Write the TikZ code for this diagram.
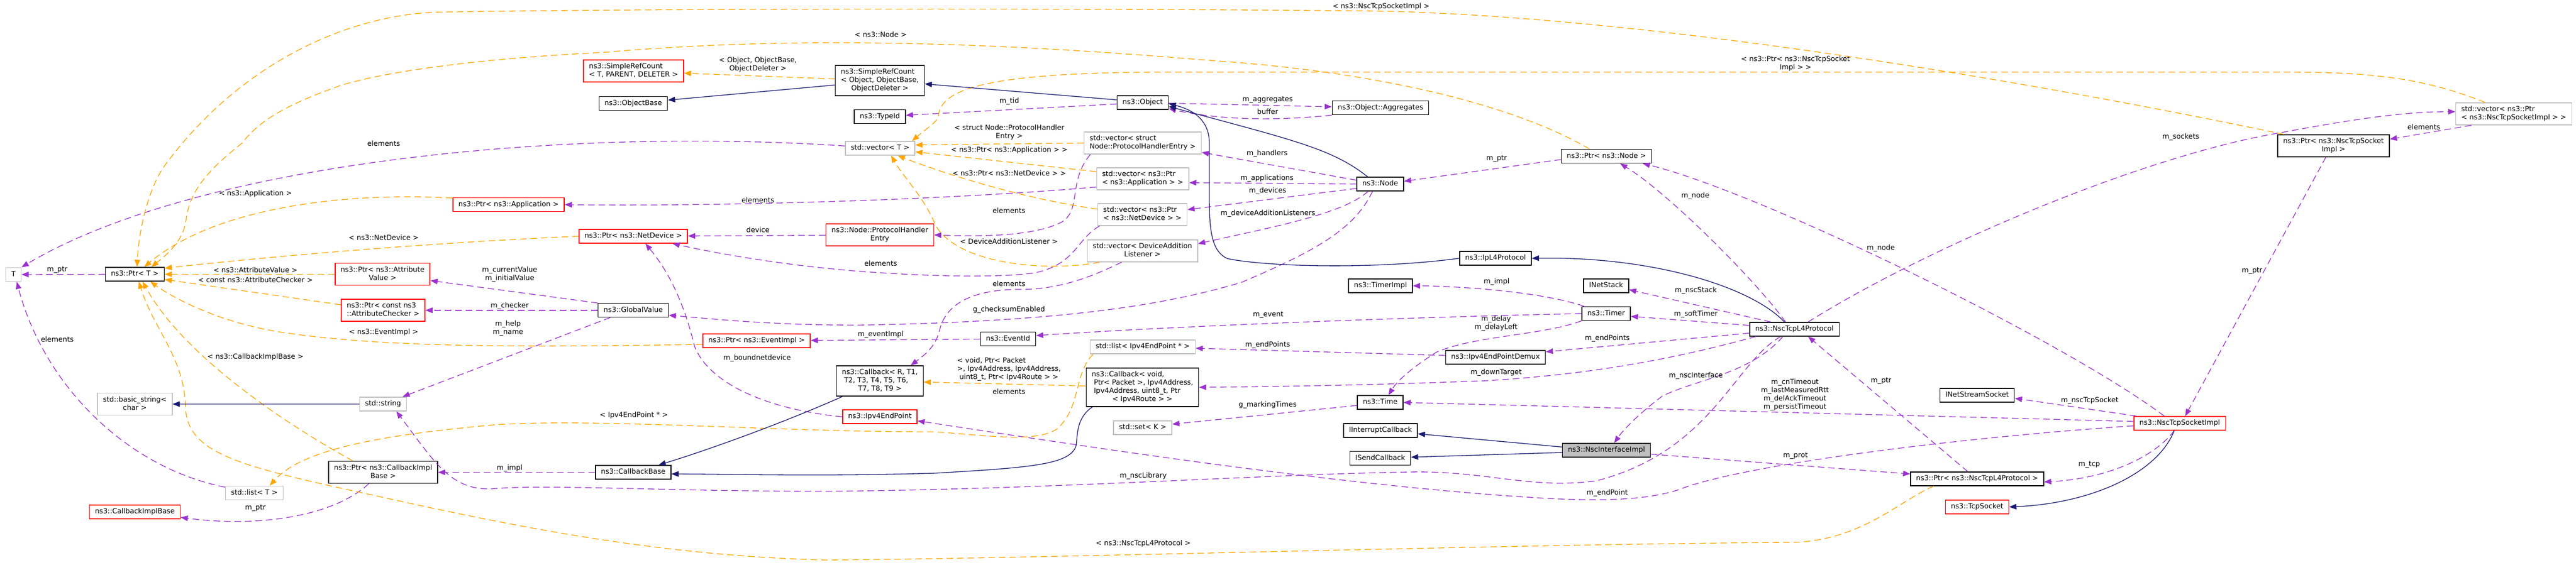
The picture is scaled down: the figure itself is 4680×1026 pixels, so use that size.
\documentclass[tikz,border=0pt]{standalone}
\usepackage{fontspec}
\setmainfont{DejaVu Sans}
\usetikzlibrary{arrows.meta}
\definecolor{usecol}{HTML}{9A32CD}
\definecolor{tmplcol}{HTML}{FFA500}
\definecolor{inhcol}{HTML}{191970}
\definecolor{extcol}{HTML}{BFBFBF}
\newcommand{\ctext}[1]{\begin{tabular}{@{}c@{}}#1\end{tabular}}
\newcommand{\ltext}[2]{\begin{tabular}{@{}l@{}}#1\\\multicolumn{1}{@{}c@{}}{#2}\end{tabular}}

\begin{document}
\begin{tikzpicture}[x=1pt, y=-1pt, font=\fontsize{12.8}{15}\selectfont,                  % pixel grid
        clsbox/.style = {rectangle, inner xsep=10pt, inner ysep=5pt, line width=1.5pt, fill=white},
        docbox/.style = {clsbox, draw=black},                                                % documented classes
        extbox/.style = {clsbox, draw=extcol},                                               % undocumented classes
        trunbox/.style = {clsbox, draw=red},                                                 % truncated graphs
        selbox/.style = {clsbox, draw=black, fill=extcol},                                   % the class itself
        elabel/.style = {inner sep=0pt, align=center},
        link/.style = {line width=1.3pt, -{Triangle[length=13pt,width=10pt]}},
        usage/.style = {link, draw=usecol, dash pattern=on 12pt off 7pt},
        tinst/.style = {link, draw=tmplcol, dash pattern=on 12pt off 7pt},
        inherit/.style = {link, draw=inhcol}]
    \useasboundingbox (0,0) rectangle (4680,1026);

    \node[extbox] (tT) at (24.5,499) {\ctext{T}};
    \node[docbox] (ptrT) at (245,498.5) {\ctext{ns3::Ptr< T >}};
    \node[trunbox] (ptrAttrVal) at (695,498.5) {\ltext{ns3::Ptr< ns3::Attribute}{Value >}};
    \node[trunbox] (ptrAttrChk) at (696,564) {\ltext{ns3::Ptr< const ns3}{::AttributeChecker >}};
    \node[extbox] (basicStr) at (245,734.5) {\ltext{std::basic\_string<}{char >}};
    \node[extbox] (stdStr) at (696,734.5) {\ctext{std::string}};
    \node[docbox] (ptrCbImpl) at (696,858.5) {\ltext{ns3::Ptr< ns3::CallbackImpl}{Base >}};
    \node[extbox] (listT) at (462,896) {\ctext{std::list< T >}};
    \node[trunbox] (cbImplBase) at (245,930.5) {\ctext{ns3::CallbackImplBase}};
    \node[trunbox] (srcT) at (1151,129) {\ltext{ns3::SimpleRefCount}{< T, PARENT, DELETER >}};
    \node[docbox] (srcObj) at (1598.5,146.5) {\ltext{ns3::SimpleRefCount\\< Object, ObjectBase,}{ObjectDeleter >}};
    \node[docbox] (objBase) at (1150.5,188) {\ctext{ns3::ObjectBase}};
    \node[docbox] (typeId) at (1598.5,212) {\ctext{ns3::TypeId}};
    \node[extbox] (vecT) at (1599,269.5) {\ctext{std::vector< T >}};
    \node[trunbox] (ptrApp) at (924,372) {\ctext{ns3::Ptr< ns3::Application >}};
    \node[trunbox] (ptrDev) at (1150.6,429.5) {\ctext{ns3::Ptr< ns3::NetDevice >}};
    \node[trunbox] (phEntry) at (1598.5,427) {\ltext{ns3::Node::ProtocolHandler}{Entry}};
    \node[docbox] (globalVal) at (1150.5,564) {\ctext{ns3::GlobalValue}};
    \node[trunbox] (ptrEvImpl) at (1374.5,619.5) {\ctext{ns3::Ptr< ns3::EventImpl >}};
    \node[docbox] (cbTmpl) at (1598.5,692.5) {\ltext{ns3::Callback< R, T1,\\\hspace{4pt}T2, T3, T4, T5, T6,}{T7, T8, T9 >}};
    \node[trunbox] (endPoint) at (1598.5,757.5) {\ctext{ns3::Ipv4EndPoint}};
    \node[docbox] (cbBase) at (1150.5,858.5) {\ctext{ns3::CallbackBase}};
    \node[docbox] (obj) at (2076,186.5) {\ctext{ns3::Object}};
    \node[extbox] (vecPhe) at (2076,260) {\ltext{std::vector< struct}{Node::ProtocolHandlerEntry >}};
    \node[extbox] (vecApp) at (2076,325) {\ltext{std::vector< ns3::Ptr}{< ns3::Application > >}};
    \node[extbox] (vecDev) at (2075.5,390) {\ltext{std::vector< ns3::Ptr}{< ns3::NetDevice > >}};
    \node[extbox] (vecDal) at (2075.5,456) {\ltext{std::vector< DeviceAddition}{Listener >}};
    \node[docbox] (eventId) at (1831.5,616) {\ctext{ns3::EventId}};
    \node[extbox] (listEp) at (2076,630.5) {\ctext{std::list< Ipv4EndPoint * >}};
    \node[docbox] (cbVoid) at (2075.5,704) {\ltext{ns3::Callback< void,\\\hspace{4pt}Ptr< Packet >, Ipv4Address,\\\hspace{4pt}Ipv4Address, uint8\_t, Ptr}{< Ipv4Route > >}};
    \node[extbox] (setK) at (2076,777.5) {\ctext{std::set< K >}};
    \node[docbox] (aggr) at (2508,196) {\ctext{ns3::Object::Aggregates}};
    \node[docbox] (nodeCls) at (2507.5,334.5) {\ctext{ns3::Node}};
    \node[docbox] (ptrNode) at (2918.5,284) {\ctext{ns3::Ptr< ns3::Node >}};
    \node[docbox] (ipL4) at (2717,469.5) {\ctext{ns3::IpL4Protocol}};
    \node[docbox] (timerImpl) at (2508,519.5) {\ctext{ns3::TimerImpl}};
    \node[docbox] (netStack) at (2918,519.5) {\ctext{INetStack}};
    \node[docbox] (timer) at (2918,570) {\ctext{ns3::Timer}};
    \node[docbox] (epDemux) at (2717,649.5) {\ctext{ns3::Ipv4EndPointDemux}};
    \node[docbox] (time) at (2507.5,731.5) {\ctext{ns3::Time}};
    \node[docbox] (intrCb) at (2508,782.5) {\ctext{IInterruptCallback}};
    \node[docbox] (sendCb) at (2507.5,833) {\ctext{ISendCallback}};
    \node[selbox] (nscIface) at (2918.6,818.5) {\ctext{ns3::NscInterfaceImpl}};
    \node[docbox] (nscL4) at (3260,598.5) {\ctext{ns3::NscTcpL4Protocol}};
    \node[docbox] (streamSock) at (3592,718.5) {\ctext{INetStreamSocket}};
    \node[docbox] (ptrNscL4) at (3592,870.5) {\ctext{ns3::Ptr< ns3::NscTcpL4Protocol >}};
    \node[trunbox] (tcpSock) at (3592,921.5) {\ctext{ns3::TcpSocket}};
    \node[trunbox] (sockImpl) at (3960,769.5) {\ctext{ns3::NscTcpSocketImpl}};
    \node[docbox] (ptrSockImpl) at (4239.5,265) {\ltext{ns3::Ptr< ns3::NscTcpSocket}{Impl >}};
    \node[extbox] (vecSock) at (4567,207) {\ltext{std::vector< ns3::Ptr}{< ns3::NscTcpSocketImpl > >}};

    %edge:usage
    \draw[usage] (ptrT) -- (tT);
    \draw[usage] (vecT) .. controls (1000,230) and (350,300) .. (tT.north east);
    \draw[usage] (listT) .. controls (230,850) and (80,700) .. ([xshift=6pt]tT.south);
    \draw[usage] ([yshift=-15pt]vecApp.west) .. controls (1700,365) and (1300,375) .. (ptrApp.east);
    \draw[usage] (phEntry) -- (ptrDev);
    \draw[usage] ([xshift=4pt]vecDev.south west) .. controls (1955,435) and (1955,480) .. (1880,496) .. controls (1800,507) and (1650,500) .. (1560,493) .. controls (1420,482) and (1300,460) .. ([xshift=-28pt]ptrDev.south east);
    \draw[usage] (endPoint.west) .. controls (1400,745) and (1290,700) .. (1262,630) .. controls (1245,560) and (1220,500) .. ([xshift=22pt]ptrDev.south);
    \draw[usage] ([xshift=12pt]vecPhe.south west) .. controls (1940,330) and (1965,380) .. (1930,403) .. controls (1880,430) and (1780,430) .. (phEntry.east);
    \draw[usage] (obj) -- (typeId);
    \draw[usage] (obj) -- (aggr);
    \draw[usage] (aggr.south west) .. controls (2300,222) and (2200,215) .. ([yshift=-11pt]obj.east);
    \draw[usage] ([yshift=7pt]nodeCls.west) -- ([yshift=-17pt]vecPhe.east);
    \draw[usage] (nodeCls.west) -- ([yshift=-7pt]vecApp.east);
    \draw[usage] ([yshift=-8pt]nodeCls.west) -- ([yshift=9pt]vecDev.east);
    \draw[usage] ([xshift=-22pt]nodeCls.south) .. controls (2440,390) and (2300,415) .. ([yshift=13pt]vecDal.east);
    \draw[usage] ([xshift=-14pt]nodeCls.south) .. controls (2460,420) and (2380,460) .. (2256,513) .. controls (2100,560) and (1900,585) .. (1560,591) .. controls (1400,591) and (1300,580) .. ([yshift=-9pt]globalVal.east);
    \draw[usage] ([xshift=-42pt]globalVal.south) -- ([xshift=-8pt]stdStr.north east);
    \draw[usage] (globalVal.north west) -- ([yshift=-11.5pt]ptrAttrVal.east);
    \draw[usage] (globalVal) -- (ptrAttrChk);
    \draw[usage] (eventId) -- (ptrEvImpl);
    \draw[usage] (cbBase) -- (ptrCbImpl);
    \draw[usage] ([xshift=-26pt]ptrCbImpl.south) .. controls (610,935) and (480,960) .. ([yshift=-10pt]cbImplBase.east);
    \draw[usage] ([xshift=-38pt]vecDal.south) .. controls (1990,500) and (1930,525) .. (1860,526) .. controls (1780,525) and (1720,545) .. (1707,600) .. controls (1700,630) and (1680,645) .. ([xshift=56pt]cbTmpl.north);
    \draw[usage] ([xshift=-40pt]timer.north) .. controls (2800,530) and (2650,520) .. (timerImpl.east);
    \draw[usage] ([xshift=-43pt]nscL4.north) -- ([yshift=-7pt]netStack.east);
    \draw[usage] ([yshift=7pt]nscL4.west) -- ([yshift=-5pt]timer.east);
    \draw[usage] (timer.west) .. controls (2500,578) and (2100,595) .. ([yshift=6pt]eventId.east);
    \draw[usage] (timer.south west) .. controls (2800,610) and (2680,610) .. (2610,640) .. controls (2570,665) and (2540,690) .. ([xshift=15pt]time.north);
    \draw[usage] ([yshift=-7pt]nscL4.west) -- ([yshift=10pt]epDemux.east);
    \draw[usage] ([yshift=3.5pt]epDemux.west) -- ([yshift=-2.5pt]listEp.east);
    \draw[usage] ([xshift=-70pt]nscL4.south) .. controls (3050,650) and (2900,680) .. (2700,692) .. controls (2500,700) and (2300,703) .. (cbVoid.east);
    \draw[usage] ([xshift=-21pt]nscL4.south) .. controls (3180,680) and (3080,690) .. (3020,720) .. controls (2980,750) and (2950,780) .. ([xshift=14pt]nscIface.north);
    \draw[usage] ([yshift=3.5pt]sockImpl.west) -- (time.east);
    \draw[usage] ([xshift=5pt]sockImpl.north west) -- ([yshift=-5.5pt]streamSock.east);
    \draw[usage] ([yshift=-7pt]nscIface.east) -- ([yshift=9pt]ptrNscL4.west);
    \draw[usage] ([xshift=-10pt]sockImpl.south) .. controls (3915,830) and (3830,870) .. ([yshift=-5.5pt]ptrNscL4.east);
    \draw[usage] ([xshift=-17pt]ptrNscL4.north) -- ([xshift=25pt]nscL4.south);
    \draw[usage] ([xshift=-16pt]nscL4.north) .. controls (3190,510) and (3030,350) .. ([xshift=25pt]ptrNode.south);
    \draw[usage] ([xshift=-28pt]sockImpl.north) .. controls (3750,620) and (3200,350) .. ([xshift=66pt]ptrNode.south);
    \draw[usage] ([xshift=25pt]nscL4.north) .. controls (3500,450) and (3900,280) .. (4150,240) .. controls (4300,212) and (4380,203) .. ([yshift=4pt]vecSock.west);
    \draw[usage] ([xshift=-77pt]vecSock.south) -- ([yshift=12pt]ptrSockImpl.east);
    \draw[usage] ([xshift=-14pt]ptrSockImpl.south) -- ([xshift=10pt]sockImpl.north);
    \draw[usage] ([yshift=-5.5pt]time.west) -- ([yshift=6.5pt]setK.east);
    \draw[usage] ([yshift=-4.5pt]sockImpl.west) .. controls (3500,800) and (3150,850) .. (3050,890) .. controls (2990,910) and (2900,912) .. (2780,904) .. controls (2400,880) and (1900,800) .. ([yshift=-7.5pt]endPoint.east);
    \draw[usage] ([xshift=-25pt]nscL4.south) .. controls (3150,660) and (3110,820) .. (2900,874) .. controls (2780,890) and (2700,855) .. (2560,858) .. controls (2300,862) and (1900,890) .. (1500,893) .. controls (1200,893) and (1000,880) .. (900,888) .. controls (820,895) and (790,840) .. ([xshift=24pt]stdStr.south);
    \draw[usage] ([yshift=-6pt]ptrNode.west) -- ([yshift=5pt]nodeCls.east);

    %edge:template
    \draw[tinst] (ptrAttrVal) -- (ptrT);
    \draw[tinst] ([yshift=10pt]ptrAttrChk.west) -- ([yshift=-9.5pt]ptrT.east);
    \draw[tinst] ([yshift=-6.5pt]ptrEvImpl.west) .. controls (1000,630) and (700,635) .. (500,602) .. controls (400,585) and (320,545) .. ([xshift=28pt]ptrT.south);
    \draw[tinst] ([xshift=-55pt]ptrCbImpl.north) .. controls (500,760) and (330,640) .. ([xshift=14pt]ptrT.south);
    \draw[tinst] ([xshift=-79pt]ptrNscL4.south) .. controls (3450,910) and (3380,985) .. (3250,986) .. controls (2800,988) and (1900,1015) .. (1500,1018) .. controls (1200,1010) and (950,960) .. (700,905) .. controls (450,850) and (340,830) .. (337,740) .. controls (335,650) and (280,600) .. ([xshift=7pt]ptrT.south);
    \draw[tinst] ([yshift=12pt]ptrApp.west) .. controls (650,350) and (400,370) .. ([xshift=17pt]ptrT.north);
    \draw[tinst] (ptrDev.west) .. controls (800,440) and (500,465) .. ([yshift=11pt]ptrT.east);
    \draw[tinst] ([xshift=-31pt]ptrNode.north) .. controls (2750,190) and (2500,130) .. (2200,110) .. controls (1900,85) and (1500,60) .. (1100,95) .. controls (900,105) and (720,125) .. (620,155) .. controls (520,190) and (470,220) .. (440,260) .. controls (390,300) and (345,340) .. (338,400) .. controls (333,440) and (300,465) .. ([xshift=30pt]ptrT.north);
    \draw[tinst] ([xshift=-90pt]ptrSockImpl.north) .. controls (3700,150) and (3000,30) .. (2500,20) .. controls (2000,15) and (1200,15) .. (800,22) .. controls (640,25) and (440,110) .. (300,300) .. controls (270,340) and (252,420) .. ([xshift=4pt]ptrT.north);
    \draw[tinst] ([xshift=-52pt]vecSock.north) .. controls (4400,140) and (4300,131) .. (4150,131) -- (2100,131) .. controls (1800,133) and (1710,160) .. (1705,210) .. controls (1703,222) and (1685,232) .. ([xshift=-6pt]vecT.north east);
    \draw[tinst] (vecPhe.west) -- ([yshift=6pt]vecT.east);
    \draw[tinst] ([yshift=13pt]vecApp.west) -- ([yshift=-6.5pt]vecT.east);
    \draw[tinst] ([yshift=10pt]vecDev.west) .. controls (1850,360) and (1700,310) .. ([xshift=32pt]vecT.south);
    \draw[tinst] ([xshift=-78pt]vecDal.south) .. controls (1900,495) and (1740,480) .. (1700,410) .. controls (1680,360) and (1640,320) .. ([xshift=20pt]vecT.south);
    \draw[tinst] ([yshift=3pt]srcObj.west) -- ([yshift=-4pt]srcT.east);
    \draw[tinst] (cbVoid) -- (cbTmpl);
    \draw[tinst] ([xshift=-90pt]listEp.south) .. controls (1950,680) and (1965,740) .. (1920,780) .. controls (1880,805) and (1800,792) .. (1700,785) .. controls (1400,785) and (1100,760) .. (900,772) .. controls (700,790) and (550,815) .. ([xshift=28pt]listT.north);

    %edge:inheritance
    \draw[inherit] ([yshift=-8pt]srcObj.west) -- ([yshift=6pt]objBase.east);
    \draw[inherit] ([yshift=5pt]obj.west) -- ([yshift=-6pt]srcObj.east);
    \draw[inherit] ([xshift=-23pt]nodeCls.north) .. controls (2420,270) and (2350,255) .. ([yshift=-7pt]obj.east);
    \draw[inherit] (ipL4.west) .. controls (2500,490) and (2300,485) .. (2230,470) .. controls (2195,455) and (2197,400) .. (2197,330) -- (2197,260) .. controls (2197,220) and (2170,200) .. ([yshift=-2pt]obj.east);
    \draw[inherit] ([xshift=-18pt]nscL4.north) .. controls (3180,520) and (3000,466) .. (ipL4.east);
    \draw[inherit] ([yshift=6pt]nscIface.west) -- ([yshift=-6pt]intrCb.east);
    \draw[inherit] ([yshift=-4pt]nscIface.west) -- ([yshift=2pt]sendCb.east);
    \draw[inherit] (stdStr) -- (basicStr);
    \draw[inherit] ([xshift=-10pt]sockImpl.south) .. controls (3920,860) and (3800,915) .. (tcpSock.east);
    \draw[inherit] ([xshift=-68pt]cbTmpl.south) .. controls (1420,770) and (1280,820) .. ([xshift=46pt]cbBase.north);
    \draw[inherit] ([xshift=-91pt]cbVoid.south) .. controls (1955,760) and (1958,790) .. (1955,810) .. controls (1945,845) and (1870,850) .. (1700,860) .. controls (1500,866) and (1350,862) .. ([yshift=-3pt]cbBase.east);

    %labels
    \node[elabel] (lab1) at (104,491) {m\_ptr};
    \node[elabel] (lab2) at (697,261) {elements};
    \node[elabel] (lab3) at (464,352) {< ns3::Application >};
    \node[elabel] (lab4) at (697,432) {< ns3::NetDevice >};
    \node[elabel] (lab5) at (464,491) {< ns3::AttributeValue >};
    \node[elabel] (lab6) at (464,509) {< const ns3::AttributeChecker >};
    \node[elabel] (lab7) at (697,604) {< ns3::EventImpl >};
    \node[elabel] (lab8) at (104,617) {elements};
    \node[elabel] (lab9) at (464,649) {< ns3::CallbackImplBase >};
    \node[elabel] (lab10) at (464,924) {m\_ptr};
    \node[elabel] (lab11) at (1377,117.5) {< Object, ObjectBase,\\ObjectDeleter >};
    \node[elabel] (lab12) at (1377,364) {elements};
    \node[elabel] (lab13) at (1377,418) {device};
    \node[elabel] (lab14) at (926,499) {m\_currentValue\\m\_initialValue};
    \node[elabel] (lab15) at (926,556) {m\_checker};
    \node[elabel] (lab16) at (923,597) {m\_help\\m\_name};
    \node[elabel] (lab17) at (1375.5,651) {m\_boundnetdevice};
    \node[elabel] (lab18) at (1151.6,755) {< Ipv4EndPoint * >};
    \node[elabel] (lab19) at (926,851) {m\_impl};
    \node[elabel] (lab20) at (1600,63) {< ns3::Node >};
    \node[elabel] (lab21) at (1833.6,184) {m\_tid};
    \node[elabel] (lab22) at (1833.6,241) {\ltext{< struct Node::ProtocolHandler}{Entry >}};
    \node[elabel] (lab23) at (1833.6,273) {< ns3::Ptr< ns3::Application > >};
    \node[elabel] (lab24) at (1833.6,315) {< ns3::Ptr< ns3::NetDevice > >};
    \node[elabel] (lab25) at (1833,383) {elements};
    \node[elabel] (lab26) at (1833,439) {< DeviceAdditionListener >};
    \node[elabel] (lab27) at (1600,479) {elements};
    \node[elabel] (lab28) at (2303,182) {m\_aggregates};
    \node[elabel] (lab29) at (2303,203) {buffer};
    \node[elabel] (lab30) at (2302,279) {m\_handlers};
    \node[elabel] (lab31) at (2302,324) {m\_applications};
    \node[elabel] (lab32) at (2303,347) {m\_devices};
    \node[elabel] (lab33) at (2303.5,388) {m\_deviceAdditionListeners};
    \node[elabel] (lab34) at (1833,516) {elements};
    \node[elabel] (lab35) at (1833,563) {g\_checksumEnabled};
    \node[elabel] (lab36) at (1600,608) {m\_eventImpl};
    \node[elabel] (lab37) at (2304,573) {m\_event};
    \node[elabel] (lab38) at (2303,627) {m\_endPoints};
    \node[elabel] (lab39) at (1833,671) {\ltext{< void, Ptr< Packet\\>, Ipv4Address, Ipv4Address,}{uint8\_t, Ptr< Ipv4Route > >}};
    \node[elabel] (lab40) at (1833,712) {elements};
    \node[elabel] (lab41) at (2303,736) {g\_markingTimes};
    \node[elabel] (lab42) at (2077,865) {m\_nscLibrary};
    \node[elabel] (lab43) at (2077,988) {< ns3::NscTcpL4Protocol >};
    \node[elabel] (lab44) at (2509,12) {< ns3::NscTcpSocketImpl >};
    \node[elabel] (lab45) at (2719,289) {m\_ptr};
    \node[elabel] (lab46) at (3080,356) {m\_node};
    \node[elabel] (lab47) at (2719,512) {m\_impl};
    \node[elabel] (lab48) at (3081,528) {m\_nscStack};
    \node[elabel] (lab49) at (3081,571) {m\_softTimer};
    \node[elabel] (lab50) at (2718,588) {m\_delay\\m\_delayLeft};
    \node[elabel] (lab51) at (2920,615) {m\_endPoints};
    \node[elabel] (lab52) at (2718,677) {m\_downTarget};
    \node[elabel] (lab53) at (3081,683) {m\_nscInterface};
    \node[elabel] (lab54) at (2920,896) {m\_endPoint};
    \node[elabel] (lab55) at (3262,115) {< ns3::Ptr< ns3::NscTcpSocket\\Impl > >};
    \node[elabel] (lab56) at (3417,451) {m\_node};
    \node[elabel] (lab57) at (3261,718) {m\_cnTimeout\\m\_lastMeasuredRtt\\m\_delAckTimeout\\m\_persistTimeout};
    \node[elabel] (lab58) at (3417.5,693) {m\_ptr};
    \node[elabel] (lab59) at (3796.6,727.7) {m\_nscTcpSocket};
    \node[elabel] (lab60) at (3262,829) {m\_prot};
    \node[elabel] (lab61) at (3795.6,845) {m\_tcp};
    \node[elabel] (lab62) at (3962,249) {m\_sockets};
    \node[elabel] (lab63) at (4403.5,231) {elements};
    \node[elabel] (lab64) at (4091.5,493) {m\_ptr};
\end{tikzpicture}
\end{document}
